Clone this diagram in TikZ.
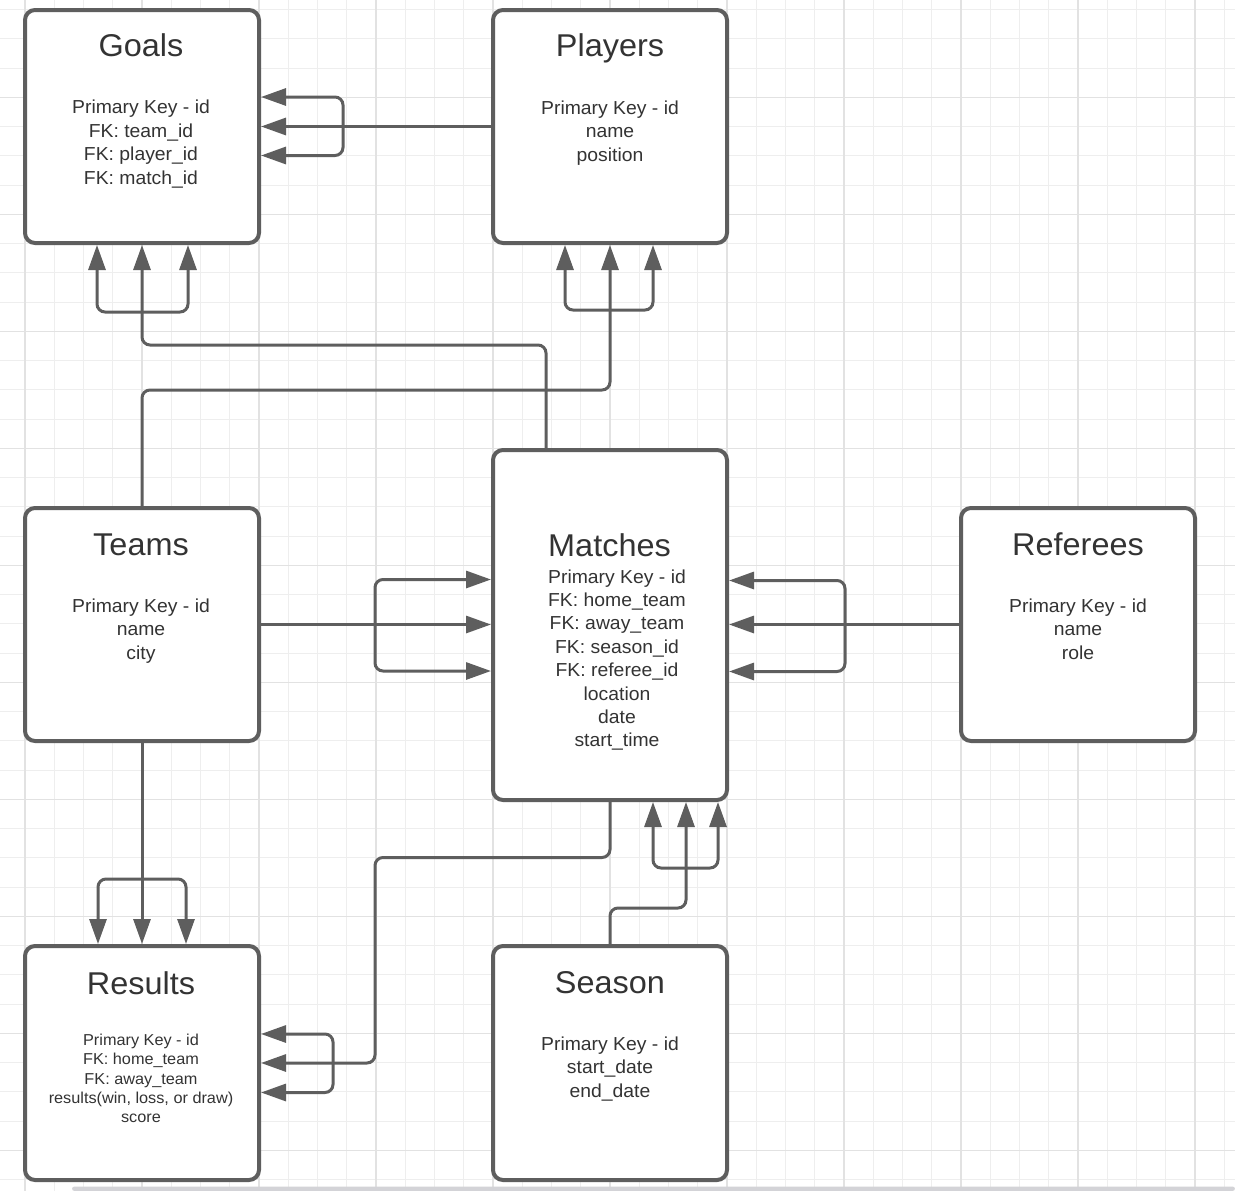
\documentclass[tikz,border=0pt]{standalone}
\usepackage{fontspec}
\setmainfont{Liberation Sans}[FakeStretch=1.03]
\usetikzlibrary{arrows.meta}
\definecolor{boxc}{HTML}{5E5E5E}
\definecolor{txtc}{HTML}{333333}
\definecolor{gminor}{HTML}{EEEEEE}
\definecolor{gmajor}{HTML}{E2E2E2}
\definecolor{scrollc}{HTML}{D3D3D7}
\tikzset{
  tbl/.style={draw=boxc, line width=4pt, fill=white, rounded corners=10pt,
    minimum width=234pt, minimum height=233pt, inner sep=0pt},
  conn/.style={draw=boxc, line width=3pt, rounded corners=8pt},
  ttl/.style={font=\fontsize{31.5}{38}\selectfont, text=txtc, anchor=base, inner sep=0pt},
  body/.style={font=\fontsize{18.8}{23.6}\selectfont, text=txtc, align=center, anchor=north, inner sep=0pt},
  small/.style={font=\fontsize{15.8}{19.4}\selectfont, text=txtc, align=center, anchor=north, inner sep=0pt},
  gridminor/.style={draw=gminor, line width=1pt},
  gridmajor/.style={draw=gmajor, line width=1.2pt}
}
\begin{document}
\begin{tikzpicture}[x=1pt, y=-1pt, >={Triangle[length=25pt,width=17pt]}]
\useasboundingbox (0,0) rectangle (1235,1191);
\fill[white] (0,0) rectangle (1235,1191);
% grid
\foreach \m in {0,...,41} \draw[gridminor] ({25+29.25*\m},0) -- ({25+29.25*\m},1191);
\foreach \n in {0,...,40} \draw[gridminor] (0,{9.5+29.25*\n}) -- (1235,{9.5+29.25*\n});
\foreach \m in {0,4,...,40} \draw[gridmajor] ({25+29.25*\m},0) -- ({25+29.25*\m},1191);
\foreach \n in {3,7,...,39} \draw[gridmajor] (0,{9.5+29.25*\n}) -- (1235,{9.5+29.25*\n});
\fill[scrollc, rounded corners=2.5pt] (72,1186.5) rectangle (1235,1191);

% boxes
\node[tbl] (goals) at (142,126.5) {};
\node[tbl] (players) at (610,126.5) {};
\node[tbl] (teams) at (142,624.5) {};
\node[tbl, minimum height=350pt] (matches) at (610,625) {};
\node[tbl] (referees) at (1078,624.5) {};
\node[tbl, minimum height=234pt] (results) at (142,1063) {};
\node[tbl, minimum height=234pt] (season) at (610,1063) {};

% connectors
\draw[conn,->] (players.west) -- (goals.east);
\draw[conn,<->] (goals.east |- 0,97) -| (343,126.5) |- (goals.east |- 0,155.5);

\draw[conn,->] (546,0 |- matches.north) |- (goals.south |- 0,345) -- (goals.south);
\draw[conn,<->] (97,0 |- goals.south) |- (188,312) -- (188,0 |- goals.south);

\draw[conn,->] (teams.north) |- (players.south |- 0,390) -- (players.south);
\draw[conn,<->] (565,0 |- players.south) |- (653,310) -- (653,0 |- players.south);

\draw[conn,->] (teams.east) -- (teams.east -| matches.west);
\draw[conn,<->] (matches.west |- 0,579.5) -| (375,624.5) |- (matches.west |- 0,671);

\draw[conn,->] (referees.west) -- (referees.west -| matches.east);
\draw[conn,<->] (matches.east |- 0,580.5) -| (845,624.5) |- (matches.east |- 0,671.5);

\draw[conn,->] (teams.south) -- (results.north);
\draw[conn,<->] (98,0 |- results.north) |- (186,879) -- (186,0 |- results.north);

\draw[conn,->] (matches.south) |- (375,857.5) |- (results.east |- 0,1063);
\draw[conn,<->] (results.east |- 0,1034) -| (333,1063) |- (results.east |- 0,1092.5);

\draw[conn,->] (season.north) |- (686,908) -- (686,0 |- matches.south);
\draw[conn,<->] (653,0 |- matches.south) |- (718,868) -- (718,0 |- matches.south);

% texts
\node[ttl] (goalsT) at (141,56.5) {Goals};
\node[body] (goalsB) at (141,99.8) {Primary Key - id\\FK: team\_id\\FK: player\_id\\FK: match\_id};
\node[ttl] (playersT) at (610,56.5) {Players};
\node[body] (playersB) at (610,100.5) {Primary Key - id\\name\\position};
\node[ttl] (teamsT) at (141,555) {Teams};
\node[body] (teamsB) at (141,598.3) {Primary Key - id\\name\\city};
\node[ttl] (matchesT) at (609.5,556) {Matches};
\node[body, font=\fontsize{18.8}{23.4}\selectfont] (matchesB) at (617,569.2) {Primary Key - id\\FK: home\_team\\FK: away\_team\\FK: season\_id\\FK: referee\_id\\location\\date\\start\_time};
\node[ttl] (refereesT) at (1078,555) {Referees};
\node[body] (refereesB) at (1078,598.3) {Primary Key - id\\name\\role};
\node[ttl] (resultsT) at (141,994) {Results};
\node[small] (resultsB) at (141,1033.7) {Primary Key - id\\FK: home\_team\\FK: away\_team\\results(win, loss, or draw)\\score};
\node[ttl] (seasonT) at (610,993) {Season};
\node[body] (seasonB) at (610,1036.5) {Primary Key - id\\start\_date\\end\_date};
\end{tikzpicture}
\end{document}
